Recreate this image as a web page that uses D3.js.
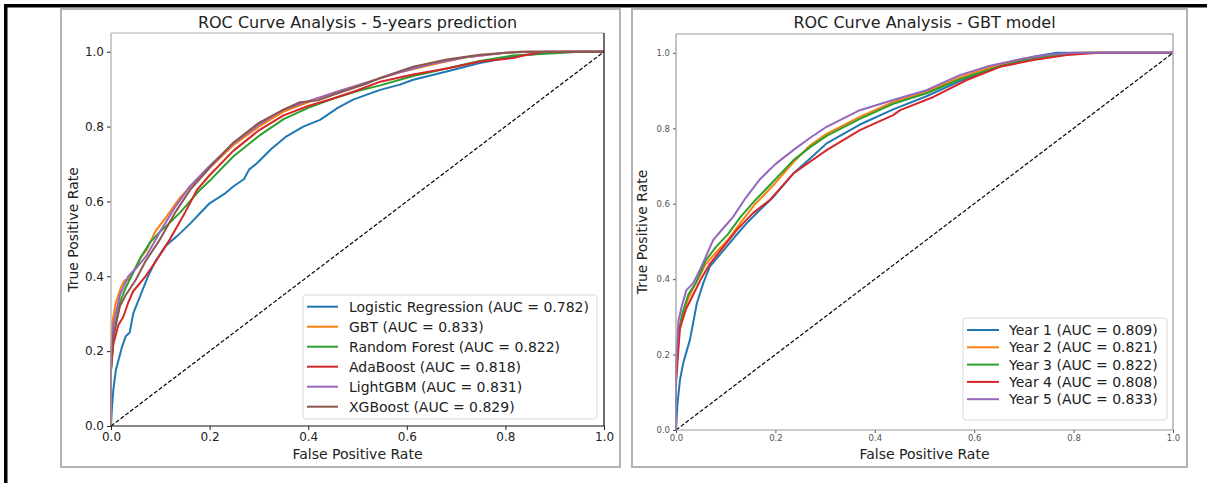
<!DOCTYPE html>
<html>
<head>
<meta charset="utf-8">
<script src="https://cdn.jsdelivr.net/npm/d3@7"></script>
<style>
  body { margin: 0; background: #fff; }
  text { font-family: "DejaVu Sans", sans-serif; }
</style>
</head>
<body>
<svg id="chart" width="1207" height="483"></svg>
<script>
// tab10 colours, as matplotlib
var colors = ["#1f77b4", "#ff7f0e", "#2ca02c", "#d62728", "#9467bd", "#8c564b"];
var ticks = [0, 0.2, 0.4, 0.6, 0.8, 1.0];

// left panel: models, 5-years prediction  ([fpr, tpr])
var modelNames = ["Logistic Regression (AUC = 0.782)", "GBT (AUC = 0.833)", "Random Forest (AUC = 0.822)",
                  "AdaBoost (AUC = 0.818)", "LightGBM (AUC = 0.831)", "XGBoost (AUC = 0.829)"];
var rocLR = [[0,0],[0.002,0.05],[0.005,0.10],[0.01,0.15],[0.018,0.19],[0.022,0.21],[0.03,0.24],[0.038,0.25],[0.045,0.30],[0.06,0.35],[0.075,0.40],[0.09,0.44],[0.11,0.48],[0.133,0.506],[0.16,0.54],[0.2,0.595],[0.23,0.62],[0.248,0.64],[0.27,0.66],[0.28,0.685],[0.296,0.702],[0.325,0.74],[0.356,0.774],[0.39,0.80],[0.424,0.818],[0.46,0.85],[0.491,0.872],[0.546,0.898],[0.586,0.912],[0.613,0.925],[0.681,0.947],[0.748,0.97],[0.816,0.987],[0.884,0.997],[0.92,1.0],[1,1]];
var rocGBT = [[0,0],[0,0.2],[0.003,0.28],[0.01,0.33],[0.02,0.37],[0.028,0.39],[0.035,0.39],[0.045,0.41],[0.06,0.45],[0.072,0.47],[0.09,0.52],[0.113,0.56],[0.14,0.61],[0.174,0.658],[0.2,0.69],[0.248,0.75],[0.3,0.80],[0.35,0.84],[0.4,0.865],[0.451,0.89],[0.519,0.918],[0.586,0.945],[0.65,0.965],[0.72,0.985],[0.8,0.997],[0.84,1],[1,1]];
var rocRF = [[0,0],[0,0.15],[0.005,0.24],[0.018,0.33],[0.03,0.37],[0.045,0.41],[0.06,0.45],[0.079,0.49],[0.1,0.52],[0.113,0.535],[0.14,0.57],[0.18,0.63],[0.2,0.655],[0.248,0.72],[0.3,0.775],[0.35,0.82],[0.4,0.85],[0.451,0.875],[0.5,0.895],[0.546,0.91],[0.613,0.935],[0.681,0.955],[0.748,0.975],[0.816,0.99],[0.92,0.997],[0.95,1],[1,1]];
var rocAda = [[0,0],[0,0.15],[0.005,0.22],[0.015,0.27],[0.025,0.292],[0.035,0.33],[0.045,0.36],[0.07,0.40],[0.093,0.444],[0.12,0.50],[0.15,0.57],[0.174,0.63],[0.2,0.67],[0.248,0.735],[0.3,0.79],[0.35,0.83],[0.4,0.855],[0.451,0.875],[0.5,0.897],[0.546,0.92],[0.613,0.939],[0.681,0.955],[0.748,0.974],[0.816,0.983],[0.836,0.99],[0.88,1],[1,1]];
var rocLGBM = [[0,0],[0,0.18],[0.005,0.27],[0.018,0.35],[0.035,0.40],[0.05,0.42],[0.072,0.455],[0.1,0.52],[0.13,0.585],[0.16,0.64],[0.2,0.695],[0.248,0.755],[0.3,0.805],[0.35,0.845],[0.4,0.868],[0.451,0.89],[0.519,0.918],[0.586,0.945],[0.65,0.968],[0.72,0.985],[0.8,0.997],[0.85,1],[1,1]];
var rocXGB = [[0,0],[0,0.15],[0.005,0.24],[0.018,0.32],[0.03,0.35],[0.05,0.39],[0.07,0.44],[0.1,0.50],[0.13,0.57],[0.16,0.63],[0.2,0.69],[0.248,0.757],[0.3,0.81],[0.35,0.845],[0.383,0.865],[0.42,0.87],[0.451,0.885],[0.519,0.915],[0.546,0.93],[0.613,0.96],[0.681,0.979],[0.748,0.992],[0.83,1],[1,1]];

// right panel: GBT model per year
var yearNames = ["Year 1 (AUC = 0.809)", "Year 2 (AUC = 0.821)", "Year 3 (AUC = 0.822)",
                 "Year 4 (AUC = 0.808)", "Year 5 (AUC = 0.833)"];
var rocY1 = [[0,0],[0.003,0.07],[0.008,0.133],[0.015,0.18],[0.028,0.239],[0.042,0.336],[0.055,0.39],[0.068,0.433],[0.085,0.46],[0.102,0.486],[0.12,0.515],[0.142,0.548],[0.17,0.585],[0.196,0.618],[0.236,0.68],[0.27,0.72],[0.303,0.76],[0.37,0.81],[0.437,0.85],[0.504,0.885],[0.571,0.925],[0.63,0.955],[0.68,0.975],[0.718,0.99],[0.766,1],[1,1]];
var rocY2 = [[0,0],[0,0.14],[0.005,0.25],[0.012,0.3],[0.025,0.35],[0.04,0.39],[0.06,0.44],[0.08,0.47],[0.105,0.505],[0.13,0.55],[0.16,0.6],[0.2,0.655],[0.236,0.71],[0.27,0.755],[0.303,0.785],[0.37,0.83],[0.437,0.87],[0.504,0.897],[0.571,0.935],[0.64,0.965],[0.7,0.985],[0.77,0.997],[0.82,1],[1,1]];
var rocY3 = [[0,0],[0,0.15],[0.005,0.26],[0.013,0.31],[0.025,0.36],[0.04,0.39],[0.06,0.45],[0.08,0.485],[0.105,0.52],[0.13,0.565],[0.16,0.61],[0.2,0.665],[0.236,0.715],[0.27,0.75],[0.303,0.78],[0.37,0.825],[0.437,0.865],[0.504,0.893],[0.571,0.93],[0.64,0.96],[0.7,0.98],[0.77,0.995],[0.83,1],[1,1]];
var rocY4 = [[0,0],[0,0.12],[0.004,0.2],[0.008,0.27],[0.02,0.32],[0.035,0.36],[0.05,0.40],[0.068,0.44],[0.095,0.485],[0.122,0.53],[0.155,0.575],[0.189,0.61],[0.236,0.68],[0.303,0.742],[0.37,0.795],[0.437,0.835],[0.451,0.848],[0.518,0.883],[0.585,0.928],[0.652,0.963],[0.719,0.981],[0.786,0.994],[0.853,1],[1,1]];
var rocY5 = [[0,0],[0,0.17],[0.005,0.29],[0.012,0.33],[0.021,0.371],[0.035,0.39],[0.05,0.43],[0.075,0.504],[0.095,0.535],[0.115,0.565],[0.14,0.615],[0.169,0.665],[0.2,0.705],[0.236,0.742],[0.27,0.775],[0.303,0.804],[0.37,0.848],[0.437,0.875],[0.504,0.901],[0.571,0.941],[0.63,0.965],[0.7,0.985],[0.75,0.995],[0.8,1],[1,1]];

var svg = d3.select("#chart");

// outer black frame (top + left only)
svg.append("rect").attr("x", 4).attr("y", 4).attr("width", 1203).attr("height", 3.5).attr("fill", "#000");
svg.append("rect").attr("x", 4).attr("y", 4).attr("width", 3.5).attr("height", 479).attr("fill", "#000");

function drawPanel(p) {
    var g = svg.append("g");

    g.append("rect")
        .attr("x", p.box[0]).attr("y", p.box[1])
        .attr("width", p.box[2]).attr("height", p.box[3])
        .attr("fill", "#fff").attr("stroke", "#b3b3b3").attr("stroke-width", 2);

    var x = d3.scaleLinear().domain([0, 1]).range([p.left, p.right]);
    var y = d3.scaleLinear().domain([0, 1.05]).range([p.bottom, p.top]);

    // curves
    var line = d3.line().x(function(d) { return x(d[0]); }).y(function(d) { return y(d[1]); });
    p.curves.forEach(function(c, i) {
        g.append("path").datum(c)
            .attr("d", line)
            .attr("fill", "none")
            .attr("stroke", colors[i])
            .attr("stroke-width", 2)
            .attr("stroke-linejoin", "round");
    });

    // chance diagonal
    g.append("path").datum([[0, 0], [1, 1]])
        .attr("d", line)
        .attr("fill", "none").attr("stroke", "#000")
        .attr("stroke-width", 1.2).attr("stroke-dasharray", "4,2");

    // axes
    var xAxis = g.append("g").attr("transform", "translate(0," + p.bottom + ")")
        .call(d3.axisBottom(x).tickValues(ticks).tickFormat(d3.format(".1f")).tickSize(p.tick).tickPadding(2));
    var yAxis = g.append("g").attr("transform", "translate(" + p.left + ",0)")
        .call(d3.axisLeft(y).tickValues(ticks).tickFormat(d3.format(".1f")).tickSize(p.tick).tickPadding(3));
    [xAxis, yAxis].forEach(function(a) {
        a.select(".domain").remove();
        a.selectAll("line").attr("stroke", p.tickColor);
        a.selectAll("text").attr("font-size", p.tickFont).attr("fill", p.tickColor)
            .attr("font-family", "DejaVu Sans");
    });

    // spines
    var sp = [[p.left, p.top, p.right, p.top, p.spineTL], [p.left, p.top, p.left, p.bottom, p.spineTL],
              [p.left, p.bottom, p.right, p.bottom, p.spineBR], [p.right, p.top, p.right, p.bottom, p.spineBR]];
    sp.forEach(function(s) {
        g.append("line").attr("x1", s[0]).attr("y1", s[1]).attr("x2", s[2]).attr("y2", s[3])
            .attr("stroke", s[4]).attr("stroke-width", 1.2);
    });

    var cx = (p.left + p.right) / 2;
    g.append("text").attr("x", cx).attr("y", 28).attr("text-anchor", "middle")
        .attr("font-size", 16).attr("fill", "#222").text(p.title);
    g.append("text").attr("x", cx).attr("y", 459).attr("text-anchor", "middle")
        .attr("font-size", 14).attr("fill", "#222").text("False Positive Rate");
    g.append("text").attr("transform", "translate(" + p.ylabX + "," + ((p.top + p.bottom) / 2) + ") rotate(-90)")
        .attr("text-anchor", "middle").attr("font-size", 14).attr("fill", "#222").text("True Positive Rate");

    // legend
    var L = p.legend;
    g.append("rect").attr("x", L.x).attr("y", L.y).attr("width", L.w).attr("height", L.h)
        .attr("rx", 3).attr("fill", "#fff").attr("fill-opacity", 0.85)
        .attr("stroke", "#d9d9d9").attr("stroke-width", 1);
    var item = g.selectAll(".leg").data(p.names).enter().append("g")
        .attr("transform", function(d, i) { return "translate(" + L.x + "," + (L.y0 + i * L.dy) + ")"; });
    item.append("line").attr("x1", L.lx1).attr("x2", L.lx2)
        .attr("stroke", function(d, i) { return colors[i]; }).attr("stroke-width", 2);
    item.append("text").attr("x", L.tx).attr("dy", "0.36em")
        .attr("font-size", 14).attr("fill", "#222").text(function(d) { return d; });
}

drawPanel({
    box: [61, 9, 559, 458],
    left: 111, right: 604, top: 33, bottom: 426,
    tick: 4, tickFont: 12, tickColor: "#222",
    spineTL: "#aaa", spineBR: "#111",
    title: "ROC Curve Analysis - 5-years prediction",
    ylabX: 78,
    curves: [rocLR, rocGBT, rocRF, rocAda, rocLGBM, rocXGB],
    names: modelNames,
    legend: { x: 303, y: 295, w: 294, h: 124, y0: 306.7, dy: 20, lx1: 4, lx2: 35, tx: 46 }
});

drawPanel({
    box: [632, 9, 555, 458],
    left: 676, right: 1173, top: 34, bottom: 430,
    tick: 3, tickFont: 8.5, tickColor: "#555",
    spineTL: "#999", spineBR: "#999",
    title: "ROC Curve Analysis - GBT model",
    ylabX: 647,
    curves: [rocY1, rocY2, rocY3, rocY4, rocY5],
    names: yearNames,
    legend: { x: 963, y: 318, w: 204, h: 102, y0: 330, dy: 17.3, lx1: 4, lx2: 36, tx: 46 }
});
</script>
</body>
</html>
